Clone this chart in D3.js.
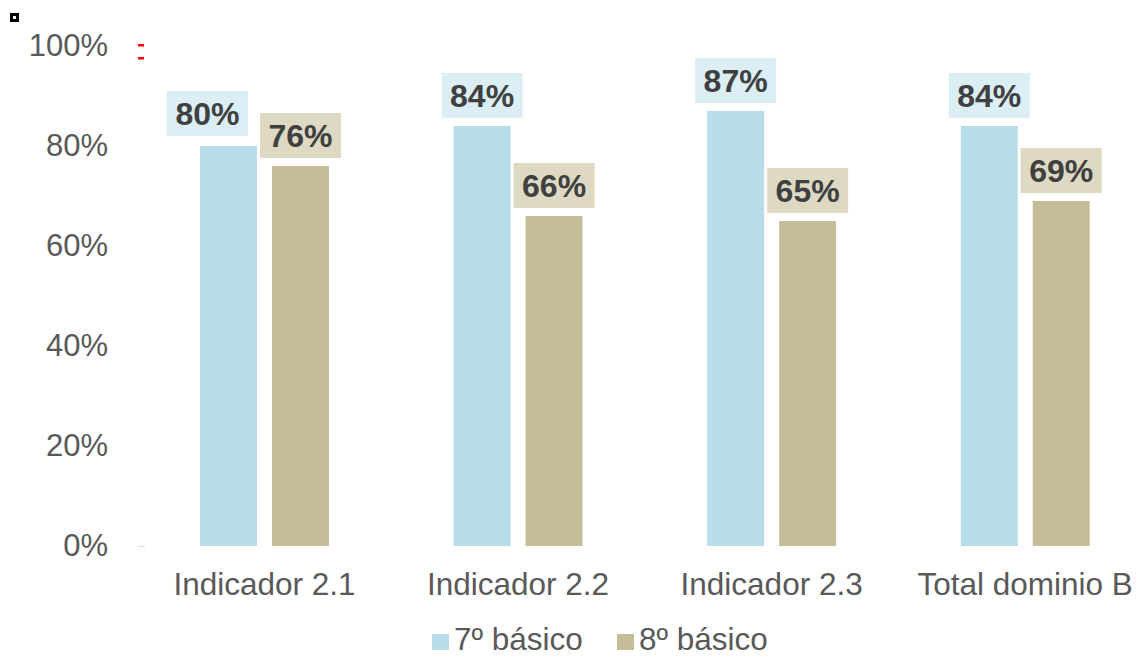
<!DOCTYPE html>
<html>
<head>
<meta charset="utf-8">
<script src="https://cdn.jsdelivr.net/npm/d3@7"></script>
<style>
  body { margin: 0; background: #fff; }
  svg { display: block; font-family: "Liberation Sans", Arial, sans-serif; }
</style>
</head>
<body>
<svg id="chart"></svg>
<script>
// chart data
var categories = ["Indicador 2.1", "Indicador 2.2", "Indicador 2.3", "Total dominio B"];
var seriesNames = ["7º básico", "8º básico"];
var basico7 = [0.80, 0.84, 0.87, 0.84];
var basico8 = [0.76, 0.66, 0.65, 0.69];
var yTicks = [0, 0.2, 0.4, 0.6, 0.8, 1.0];

var width = 1138, height = 657;
var barColors = ["#b7dde8", "#c4bd97"];
var boxColors = ["#daeef3", "#ddd9c3"];

var svg = d3.select("#chart").attr("width", width).attr("height", height);

var x = d3.scaleBand().domain(categories).range([137.7, 1152]);
var xInner = d3.scaleBand().domain(seriesNames).range([0, 129]).paddingInner(0.2083);
var y = d3.scaleLinear().domain([0, 1]).range([546, 46]);

// y axis labels (no axis line)
var yAxis = d3.axisLeft(y).tickValues(yTicks).tickFormat(d3.format(".0%")).tickSize(0).tickPadding(0);
var gy = svg.append("g").attr("transform", "translate(108,0)").call(yAxis);
gy.select(".domain").remove();
gy.selectAll("text")
  .attr("font-size", 31)
  .attr("fill", "#595959")
  .attr("font-family", "Liberation Sans, Arial, sans-serif")
  .attr("dy", "0.3em");

// small tick at zero
svg.append("line")
  .attr("x1", 138).attr("x2", 145)
  .attr("y1", y(0) + 0.5).attr("y2", y(0) + 0.5)
  .attr("stroke", "#d9d9d9").attr("stroke-width", 1);

// bars
var rows = categories.map(function(c, i) {
  return { cat: c, vals: [basico7[i], basico8[i]] };
});

var groups = svg.selectAll("g.grp")
  .data(rows)
  .enter().append("g")
  .attr("class", "grp")
  .attr("transform", function(d) { return "translate(" + (x(d.cat) + x.bandwidth() / 2 - 64.5) + ",0)"; });

groups.selectAll("rect.bar")
  .data(function(d) { return d.vals.map(function(v, k) { return { s: seriesNames[k], k: k, v: v }; }); })
  .enter().append("rect")
  .attr("class", "bar")
  .attr("x", function(d) { return xInner(d.s); })
  .attr("y", function(d) { return y(d.v); })
  .attr("width", xInner.bandwidth())
  .attr("height", function(d) { return y(0) - y(d.v); })
  .attr("fill", function(d) { return barColors[d.k]; });

// value labels in boxes
var boxW = 81, boxH = 45, gap = 8;
groups.each(function(d) {
  var g = d3.select(this);
  var boxes = d.vals.map(function(v, k) {
    var cx = xInner(seriesNames[k]) + xInner.bandwidth() / 2;
    return { k: k, v: v, x: cx - boxW / 2, y: y(v) - gap - boxH };
  });
  // push the first label left if it runs into the second
  var a = boxes[0], b = boxes[1];
  if (a.x + boxW > b.x && a.y + boxH > b.y && b.y + boxH > a.y) {
    a.x = b.x - 12 - boxW;
    a.y -= 2;
  }
  boxes.forEach(function(bx) {
    g.append("rect")
      .attr("x", bx.x).attr("y", bx.y)
      .attr("width", boxW).attr("height", boxH)
      .attr("fill", boxColors[bx.k]);
    g.append("text")
      .attr("x", bx.x + boxW / 2)
      .attr("y", bx.y + boxH / 2)
      .attr("dy", "0.36em")
      .attr("text-anchor", "middle")
      .attr("font-size", 32)
      .attr("font-weight", "bold")
      .attr("fill", "#404040")
      .text(d3.format(".0%")(bx.v));
  });
});

// category labels
svg.selectAll("text.cat")
  .data(categories)
  .enter().append("text")
  .attr("class", "cat")
  .attr("x", function(d) { return x(d) + x.bandwidth() / 2; })
  .attr("y", 595)
  .attr("text-anchor", "middle")
  .attr("font-size", 31.5)
  .attr("fill", "#595959")
  .text(function(d) { return d; });

// legend
var legendX = [432, 617];
var legend = svg.selectAll("g.leg")
  .data(seriesNames)
  .enter().append("g")
  .attr("class", "leg")
  .attr("transform", function(d, i) { return "translate(" + legendX[i] + ",0)"; });
legend.append("rect")
  .attr("x", 0).attr("y", 634)
  .attr("width", 17).attr("height", 16)
  .attr("fill", function(d, i) { return barColors[i]; });
legend.append("text")
  .attr("x", 22).attr("y", 650)
  .attr("font-size", 31.5)
  .attr("fill", "#595959")
  .text(function(d) { return d; });

// stray marks from the original export
svg.append("rect")
  .attr("x", 11.5).attr("y", 14.5).attr("width", 6).attr("height", 6)
  .attr("fill", "#fff").attr("stroke", "#000").attr("stroke-width", 3);
svg.append("rect").attr("x", 138).attr("y", 44).attr("width", 6).attr("height", 2.5).attr("fill", "#ff0000");
svg.append("rect").attr("x", 138).attr("y", 57).attr("width", 6).attr("height", 2.5).attr("fill", "#ff0000");
</script>
</body>
</html>
